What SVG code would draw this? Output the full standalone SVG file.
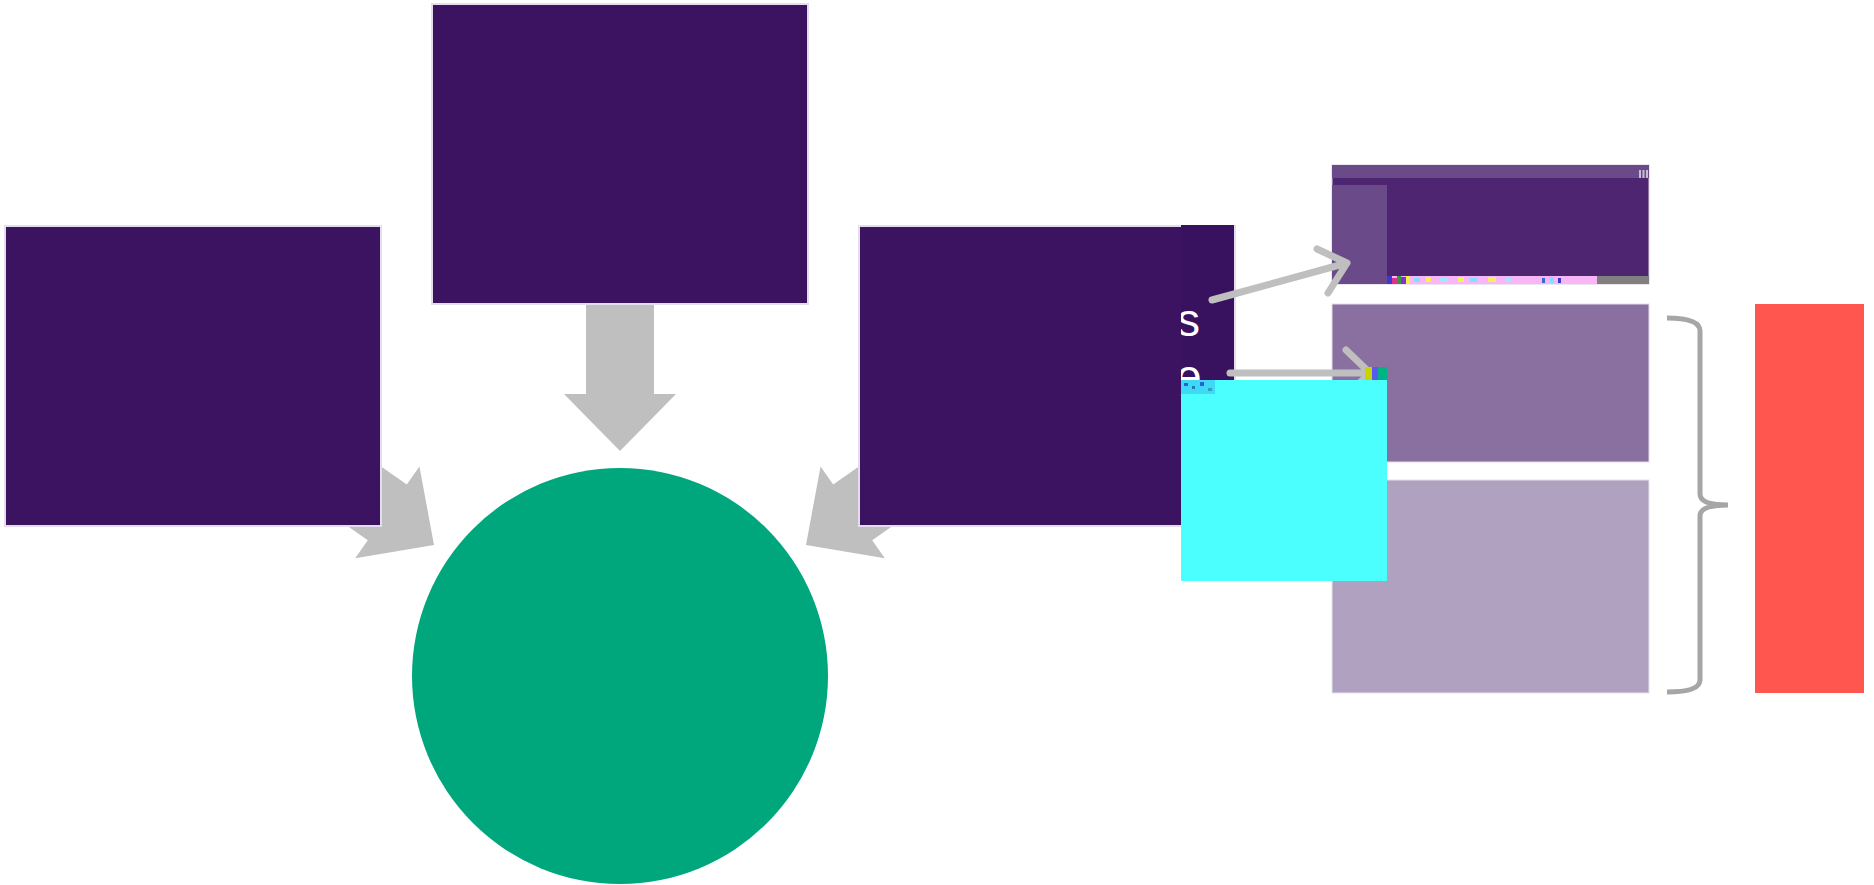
<svg xmlns="http://www.w3.org/2000/svg" xmlns:xlink="http://www.w3.org/1999/xlink" width="1874" height="885" viewBox="0 0 1874 885">
<style>
.box{fill:#3C1361;stroke:#E4DEEC;stroke-width:2}
.blk{fill:#BFBFBF}
.ln{fill:none;stroke:#BFBFBF;stroke-width:7;stroke-linecap:round;stroke-linejoin:round}
.brace{fill:none;stroke:#A6A6A6;stroke-width:5}
.frag{fill:#FFFFFF;font-family:"Liberation Sans","Open Sans",sans-serif;font-size:46px}
</style>
<defs>
<polygon id="blockArrow" points="0,0 -57,-56 -57,-34 -170,-34 -170,34 -57,34 -57,56"/>
<clipPath id="stripClip"><rect x="1181" y="224" width="54" height="156"/></clipPath>
</defs>
<rect width="1874" height="885" fill="#FFFFFF"/>

<g id="connectors-block">
<use xlink:href="#blockArrow" class="blk" transform="translate(620,451) rotate(90)"/>
<use xlink:href="#blockArrow" class="blk" transform="translate(434,545) rotate(35)"/>
<use xlink:href="#blockArrow" class="blk" transform="translate(806,545) scale(-1,1) rotate(35)"/>
</g>

<g id="node-top"><rect class="box" x="432" y="4" width="376" height="300"/></g>
<g id="node-left"><rect class="box" x="5" y="226" width="376" height="300"/></g>
<g id="node-right">
<rect class="box" x="859" y="226" width="376" height="300"/>
<rect x="1181" y="225" width="53" height="155" fill="#39125F"/>
<g clip-path="url(#stripClip)">
<text class="frag" x="1177" y="336">s</text>
<text class="frag" x="1176" y="392">e</text>
</g>
</g>
<g id="node-circle"><circle cx="620" cy="676" r="208" fill="#00A77D"/></g>

<g id="node-panel-top">
<rect x="1332" y="165" width="317" height="119" fill="#4E2571" stroke="#D8D0E2" stroke-width="1"/>
<rect x="1332" y="165" width="317" height="13" fill="#6A4A89"/>
<rect x="1332" y="185" width="55" height="99" fill="#6A4A89"/>
<rect x="1639" y="170" width="2" height="8" fill="#C9BCDA"/>
<rect x="1642.5" y="170" width="2" height="8" fill="#C9BCDA"/>
<rect x="1646" y="170" width="2" height="8" fill="#C9BCDA"/>
<rect x="1387" y="276" width="210" height="8" fill="#F8B6F6"/>
<rect x="1387" y="276" width="5" height="8" fill="#3A3AD0"/>
<rect x="1392" y="278" width="5" height="6" fill="#E0308F"/>
<rect x="1397" y="276" width="4" height="8" fill="#2E9B3C"/>
<rect x="1401" y="277" width="5" height="7" fill="#8A2BE2"/>
<rect x="1406" y="276" width="4" height="8" fill="#F2F23A"/>
<rect x="1414" y="278" width="6" height="4" fill="#7FE0FF"/>
<rect x="1426" y="277" width="5" height="5" fill="#F5F060"/>
<rect x="1440" y="278" width="8" height="4" fill="#9FE8FF"/>
<rect x="1458" y="277" width="6" height="5" fill="#F5F060"/>
<rect x="1470" y="278" width="7" height="4" fill="#7FE0FF"/>
<rect x="1488" y="277" width="8" height="5" fill="#F0F060"/>
<rect x="1505" y="278" width="6" height="4" fill="#9FE8FF"/>
<rect x="1542" y="278" width="3" height="5" fill="#3A6AD0"/>
<rect x="1550" y="277" width="4" height="6" fill="#7FE0FF"/>
<rect x="1558" y="278" width="3" height="5" fill="#3A3AD0"/>
<rect x="1597" y="276" width="52" height="8" fill="#808080"/>
</g>
<g id="node-panel-mid"><rect x="1332" y="304" width="317" height="158" fill="#8970A0" stroke="#E2DCEA" stroke-width="1"/></g>
<g id="node-panel-low"><rect x="1332" y="480" width="317" height="213" fill="#B0A1C1" stroke="#E8E3EE" stroke-width="1"/></g>
<g id="node-red"><rect x="1755" y="304" width="109" height="389" fill="#FF5650"/></g>

<g id="connectors-lines">
<path class="ln" d="M1212,300 L1347,263 M1317,249 L1347,263 L1328,293"/>
<path class="ln" d="M1230,373 L1370,373 M1346,350 L1370,373 L1346,396"/>
<path class="brace" d="M1667,318 Q1700,318 1700,331 L1700,494 Q1700,505 1728,505 Q1700,505 1700,516 L1700,680 Q1700,692 1667,692"/>
</g>

<g id="node-cyan">
<rect x="1181" y="380" width="206" height="201" fill="#4BFFFF"/>
<rect x="1181" y="380" width="34" height="14" fill="#3FD9F5"/>
<rect x="1184" y="383" width="4" height="3" fill="#2B5FD8"/>
<rect x="1192" y="386" width="3" height="3" fill="#1E7FB0"/>
<rect x="1200" y="382" width="4" height="4" fill="#2B5FD8"/>
<rect x="1208" y="388" width="4" height="3" fill="#2FA0C0"/>
<rect x="1365" y="367" width="7" height="13" fill="#C8D400"/>
<rect x="1372" y="367" width="6" height="13" fill="#5A5AF0"/>
<rect x="1378" y="367" width="9" height="13" fill="#00B386"/>
</g>
</svg>
